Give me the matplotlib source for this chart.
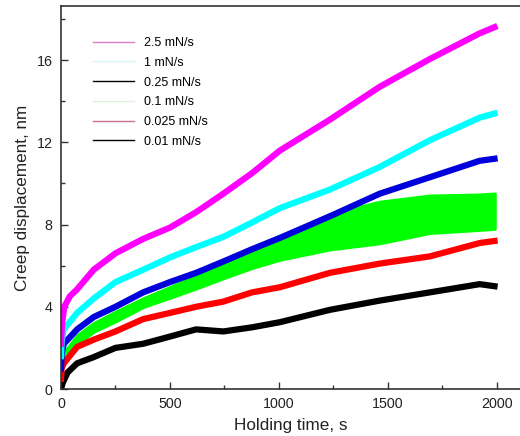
import matplotlib
matplotlib.use("Agg")
import matplotlib.pyplot as plt
from matplotlib.lines import Line2D

plt.rcParams['font.family'] = ['Liberation Sans', 'DejaVu Sans']

labels = ["2.5 mN/s", "1 mN/s", "0.25 mN/s", "0.1 mN/s", "0.025 mN/s", "0.01 mN/s"]
legend_colors = ["#d77fc8", "#d9f4f4", "#000000", "#dcf0dc", "#c8708c", "#000000"]

t_mag = [0, 5, 15, 40, 74, 150, 250, 377, 500, 620, 745, 877, 1005, 1234, 1463, 1693, 1922, 1990]
v_mag = [2.2, 3.2, 4.0, 4.5, 4.85, 5.8, 6.6, 7.3, 7.85, 8.6, 9.5, 10.5, 11.6, 13.1, 14.7, 16.05, 17.3, 17.6]

t_std = [0, 3, 13, 74, 150, 250, 377, 500, 620, 745, 877, 1005, 1234, 1463, 1693, 1922, 1990]
v_cyan = [1.6, 2.3, 2.9, 3.7, 4.4, 5.2, 5.8, 6.4, 6.9, 7.4, 8.1, 8.8, 9.7, 10.8, 12.1, 13.2, 13.4]
v_blue = [1.0, 1.7, 2.2, 2.9, 3.5, 4.0, 4.7, 5.2, 5.65, 6.2, 6.8, 7.35, 8.4, 9.5, 10.3, 11.1, 11.2]
v_green_lo = [0.5, 1.0, 1.35, 2.2, 2.8, 3.3, 4.0, 4.45, 4.9, 5.4, 5.9, 6.3, 6.8, 7.1, 7.6, 7.75, 7.8]
v_green_hi = [0.9, 1.4, 1.75, 2.6, 3.2, 3.75, 4.4, 4.95, 5.5, 6.0, 6.7, 7.4, 8.5, 9.1, 9.4, 9.45, 9.5]
v_red = [0.5, 1.0, 1.25, 2.05, 2.4, 2.8, 3.4, 3.7, 4.0, 4.25, 4.7, 4.95, 5.65, 6.1, 6.45, 7.1, 7.2]

t_blk = [0, 8, 30, 74, 150, 250, 377, 500, 620, 745, 877, 1005, 1234, 1463, 1693, 1922, 1990]
v_blk = [0.0, 0.3, 0.8, 1.25, 1.55, 2.0, 2.2, 2.55, 2.9, 2.8, 3.0, 3.25, 3.85, 4.3, 4.7, 5.1, 5.0]

xticks = [0, 500, 1000, 1500, 2000]
yticks = [0, 4, 8, 12, 16]

fig = plt.figure(figsize=(5.2, 4.36), dpi=100)
ax = fig.add_axes([61/520, 47/436, 1 - 61/520, (389-6)/436])

lw = 4.5
ax.plot(t_blk, v_blk, color="#000000", lw=lw, solid_joinstyle='round')
ax.plot(t_std, v_red, color="#ff0000", lw=lw, solid_joinstyle='round')
ax.fill_between(t_std, v_green_lo, v_green_hi, color="#00ff00", lw=2.5, edgecolor="#00ff00")
ax.plot(t_std, v_blue, color="#0000dd", lw=lw, solid_joinstyle='round')
ax.plot(t_std, v_cyan, color="#00ffff", lw=lw, solid_joinstyle='round')
ax.plot(t_mag, v_mag, color="#ff00ff", lw=lw, solid_joinstyle='round')

ax.set_xlim(0, 2107)
ax.set_ylim(0, 18.63)
ax.set_xticks(xticks)
ax.set_yticks(yticks)
ax.set_xticks([250, 750, 1250, 1750], minor=True)
ax.set_yticks([2, 6, 10, 14, 18], minor=True)
ax.tick_params(which='both', direction='in', top=False, right=False, labelsize=10.3,
               color="#333333", labelcolor="#222222")
ax.tick_params(which='major', length=5, width=1)
ax.tick_params(which='minor', length=3, width=1)
ax.tick_params(axis='y', pad=6)
ax.tick_params(axis='x', pad=6)
for s in ['left', 'bottom', 'top']:
    ax.spines[s].set_color("#333333")
    ax.spines[s].set_linewidth(1.2)
ax.spines['right'].set_visible(False)

ax.set_xlabel("Holding time, s", fontsize=12.3, labelpad=5, color="#222222")
ax.set_ylabel("Creep displacement, nm", fontsize=12.3, labelpad=5, color="#222222")

handles = [Line2D([], [], color=c, lw=1.0) for c in legend_colors]
ax.legend(handles, labels, loc='upper left', bbox_to_anchor=(93/520, 1 - 37/436),
          bbox_transform=fig.transFigure, frameon=False, fontsize=9,
          handlelength=3.3, handletextpad=0.8, labelspacing=0.62,
          borderpad=0, borderaxespad=0)

fig.savefig("out.png", dpi=100)
